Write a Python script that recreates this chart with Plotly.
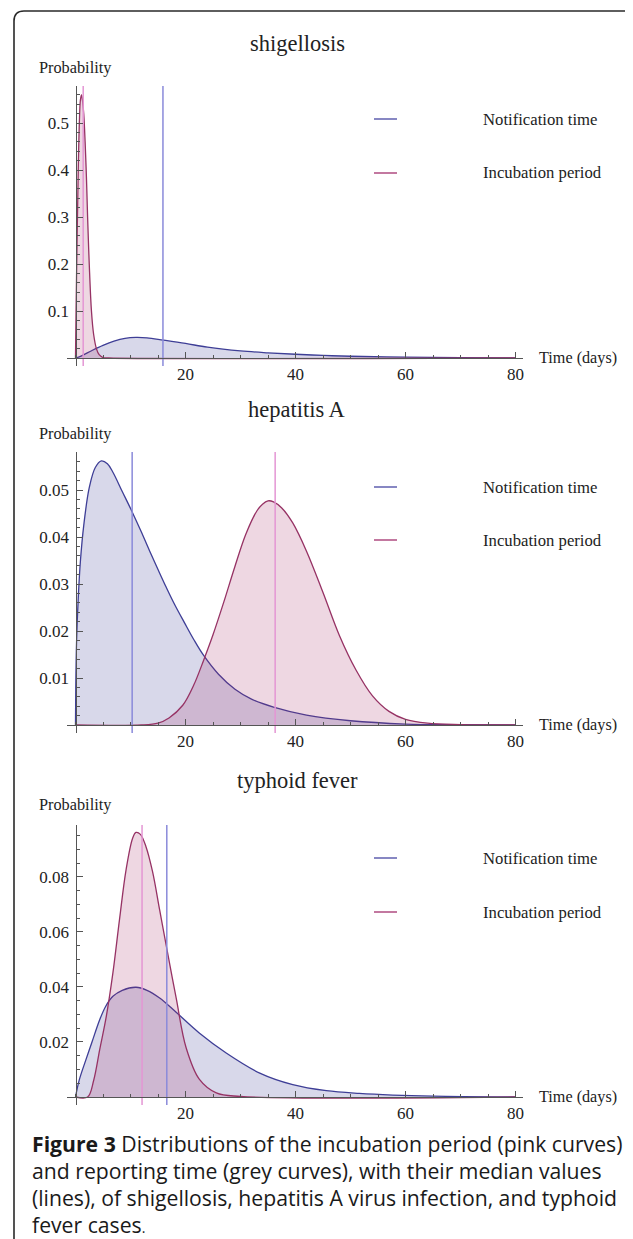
import plotly.graph_objects as go

# page has an 8px body margin, so the figure is drawn 8px in from the top-left
OFF = 8
W, H = 633 - OFF, 1239 - OFF

# ---------------- data ----------------
titles = ["shigellosis", "hepatitis A", "typhoid fever"]
legend_labels = ["Notification time", "Incubation period"]

shig_notif_x = [0, 1, 3, 5, 7, 9, 11, 13, 16, 20, 24, 30, 35, 40, 45, 50, 60, 70, 80]
shig_notif_y = [0, 0.004, 0.016, 0.027, 0.036, 0.042, 0.044, 0.043, 0.038, 0.031, 0.023,
                0.015, 0.011, 0.008, 0.0055, 0.0037, 0.0017, 0.0007, 0.0003]
shig_incub_x = [0, 0.1, 0.3, 0.5, 0.7, 0.9, 1.1, 1.3, 1.5, 1.75, 2.0, 2.2, 2.5, 2.9, 3.3,
                3.8, 4.3, 5.0, 6.0, 80]
shig_incub_y = [0, 0.1, 0.26, 0.4, 0.5, 0.55, 0.56, 0.545, 0.52, 0.46, 0.38, 0.3, 0.2, 0.1,
                0.05, 0.02, 0.007, 0.001, 0, 0]
shig_medians = [15.9, 1.4]

hepa_notif_x = [0, 0.05, 0.2, 0.5, 0.9, 1.5, 2.5, 3.6, 4.7, 5.8, 6.8, 8.5, 10.2, 12, 13.5,
                15, 16.5, 18, 19.8, 21.5, 23.3, 26, 29, 32, 36, 42, 50, 60, 70, 80]
hepa_notif_y = [0, 0.008, 0.018, 0.027, 0.035, 0.0425, 0.0505, 0.0548, 0.0562, 0.0556,
                0.0538, 0.0497, 0.0456, 0.0410, 0.0370, 0.0331, 0.0293, 0.0257, 0.0218,
                0.0182, 0.0148, 0.0108, 0.0076, 0.0055, 0.0038, 0.0021, 0.0009, 0.0002,
                0.00005, 0]
hepa_incub_x = [0, 12, 15, 17, 19.5, 21.5, 23.3, 25, 27, 29, 31, 33, 34, 35, 36, 37.5,
                39.5, 42, 45, 48, 51, 54, 57, 60, 64, 70, 80]
hepa_incub_y = [0, 0, 0.0004, 0.0015, 0.0042, 0.0085, 0.0138, 0.0192, 0.0263, 0.0338,
                0.0407, 0.0456, 0.0470, 0.0477, 0.0475, 0.0462, 0.0430, 0.0370, 0.0282,
                0.0190, 0.0117, 0.0062, 0.0029, 0.0012, 0.0004, 0.0001, 0]
hepa_medians = [10.3, 36.3]

typh_notif_x = [0, 0.7, 1.9, 3, 4.4, 5.5, 6.8, 8.5, 11, 13, 15.3, 18.3, 22.5, 27.4, 33.5,
                39.5, 45.6, 51.6, 57.7, 65, 80]
typh_notif_y = [0, 0.0063, 0.0136, 0.02, 0.0281, 0.033, 0.0366, 0.0388, 0.0399, 0.0388,
                0.036, 0.0308, 0.0233, 0.016, 0.0087, 0.0045, 0.0023, 0.0013, 0.0007,
                0.0003, 0]
typh_incub_x = [0, 2.2, 3.3, 4.4, 5.6, 6.8, 8, 9.2, 10.4, 11, 11.8, 12.8, 14, 15.3, 16.5,
                18.3, 20.1, 22.5, 25.6, 30, 80]
typh_incub_y = [0, 0, 0.006, 0.0172, 0.0293, 0.0451, 0.0645, 0.0827, 0.0942, 0.0962,
                0.0955, 0.0911, 0.082, 0.068, 0.055, 0.036, 0.018, 0.0065, 0.0015, 0.0002, 0]
typh_medians = [16.6, 12.1]

y_tickvals = [[0.1, 0.2, 0.3, 0.4, 0.5],
              [0.01, 0.02, 0.03, 0.04, 0.05],
              [0.02, 0.04, 0.06, 0.08]]
y_ticktext = [["0.1", "0.2", "0.3", "0.4", "0.5"],
              ["0.01", "0.02", "0.03", "0.04", "0.05"],
              ["0.02", "0.04", "0.06", "0.08"]]
y_max = [0.579, 0.0581, 0.0989]
y_minor = [0.02, 0.002, 0.005]
x_tickvals = [20, 40, 60, 80]
x_ticktext = ["20", "40", "60", "80"]
x_minor = 5

caption_lines = [
    "<b>Figure 3</b> Distributions of the incubation period (pink curves)",
    "and reporting time (grey curves), with their median values",
    "(lines), of shigellosis, hepatitis A virus infection, and typhoid",
    "fever cases<span style='font-size:14px'>.</span>",
]

panels = [
    (shig_notif_x, shig_notif_y, shig_incub_x, shig_incub_y, shig_medians),
    (hepa_notif_x, hepa_notif_y, hepa_incub_x, hepa_incub_y, hepa_medians),
    (typh_notif_x, typh_notif_y, typh_incub_x, typh_incub_y, typh_medians),
]

# ---------------- styling / layout ----------------
SERIF = "Liberation Serif"
BLUE_LINE = "rgb(62,62,150)"
BLUE_FILL = "rgba(60,60,150,0.2)"
PINK_LINE = "rgb(150,50,100)"
PINK_FILL = "rgba(165,40,100,0.19)"
BLUE_MED = "rgb(138,138,218)"
PINK_MED = "rgb(228,150,212)"
LEG_BLUE = "rgb(135,135,195)"
LEG_PINK = "rgb(195,120,160)"
AX = "#555555"
TXT = "#222222"


def X(px):
    return (px - OFF) / W


def Y(py):
    return 1 - (py - OFF) / H


baselines = [358, 725, 1097]
tops = [86, 452, 825]
overhang = 8
x0_px, ppd = 75.5, 5.5
plot_left, plot_right = 67, 523
title_y = [43, 410, 780]
prob_y = [67, 434, 804]
leg_y = [(119, 173), (487, 540), (858, 912)]

fig = go.Figure()
layout = dict(
    width=W, height=H, margin=dict(l=0, r=0, t=0, b=0),
    paper_bgcolor="white", plot_bgcolor="rgba(0,0,0,0)",
    showlegend=False, annotations=[], shapes=[],
)

xr = [(plot_left - x0_px) / ppd, (plot_right - x0_px) / ppd]

for i, (nx, ny, ix, iy, meds) in enumerate(panels):
    k = "" if i == 0 else str(i + 1)
    xa, ya = "x" + k, "y" + k
    base, top = baselines[i], tops[i]
    scale = (base - top) / y_max[i]
    yr = [-overhang / scale, y_max[i]]

    fig.add_trace(go.Scatter(x=nx, y=ny, mode="lines", fill="tozeroy",
                             fillcolor=BLUE_FILL,
                             line=dict(color=BLUE_LINE, width=1.3, shape="spline", smoothing=1.0),
                             xaxis=xa, yaxis=ya, name=legend_labels[0]))
    fig.add_trace(go.Scatter(x=ix, y=iy, mode="lines", fill="tozeroy",
                             fillcolor=PINK_FILL,
                             line=dict(color=PINK_LINE, width=1.3, shape="spline", smoothing=1.0),
                             xaxis=xa, yaxis=ya, name=legend_labels[1]))
    # median lines
    for m, col in zip(meds, [BLUE_MED, PINK_MED]):
        fig.add_trace(go.Scatter(x=[m, m], y=yr, mode="lines",
                                 line=dict(color=col, width=1.5),
                                 xaxis=xa, yaxis=ya, hoverinfo="skip"))

    layout["xaxis" + k] = dict(
        domain=[X(plot_left), X(plot_right)], range=xr, anchor="free",
        position=Y(base), showline=True, linecolor=AX, linewidth=1,
        showgrid=False, zeroline=False, ticks="inside", ticklen=6, tickcolor=AX,
        tickmode="array", tickvals=x_tickvals, ticktext=x_ticktext,
        tickfont=dict(family=SERIF, size=17, color=TXT), ticklabelstandoff=1,
        minor=dict(tickmode="linear", tick0=0, dtick=x_minor, ticks="inside",
                   ticklen=3, tickcolor=AX, showgrid=False),
    )
    layout["yaxis" + k] = dict(
        domain=[Y(base + overhang), Y(top)], range=yr, anchor="free",
        position=X(x0_px), showline=True, linecolor=AX, linewidth=1,
        showgrid=False, zeroline=False, ticks="inside", ticklen=6, tickcolor=AX,
        tickmode="array", tickvals=y_tickvals[i], ticktext=y_ticktext[i],
        tickfont=dict(family=SERIF, size=17, color=TXT), ticklabelstandoff=3,
        minor=dict(tickmode="linear", tick0=0, dtick=y_minor[i], ticks="inside",
                   ticklen=3, tickcolor=AX, showgrid=False),
    )

    ann = layout["annotations"]
    ann.append(dict(text=titles[i], x=X(297), y=Y(title_y[i]), xref="paper", yref="paper",
                    xanchor="center", yanchor="middle", showarrow=False,
                    font=dict(family=SERIF, size=22.5, color=TXT)))
    ann.append(dict(text="Probability", x=X(75), y=Y(prob_y[i]), xref="paper", yref="paper",
                    xanchor="center", yanchor="middle", showarrow=False,
                    font=dict(family=SERIF, size=16.3, color=TXT)))
    ann.append(dict(text="Time (days)", x=X(537), y=Y(base), xref="paper", yref="paper",
                    xanchor="left", yanchor="middle", showarrow=False,
                    font=dict(family=SERIF, size=16.2, color=TXT)))
    for j, (lab, lcol) in enumerate(zip(legend_labels, [LEG_BLUE, LEG_PINK])):
        ly = leg_y[i][j]
        ann.append(dict(text=lab, x=X(481), y=Y(ly), xref="paper", yref="paper",
                        xanchor="left", yanchor="middle", showarrow=False,
                        font=dict(family=SERIF, size=16.7, color=TXT)))
        layout["shapes"].append(dict(type="line", xref="paper", yref="paper",
                                     x0=X(374), x1=X(397), y0=Y(ly), y1=Y(ly),
                                     line=dict(color=lcol, width=2)))

# caption
cap_y = [1143, 1170, 1197, 1224]
for line, cy in zip(caption_lines, cap_y):
    layout["annotations"].append(dict(text=line, x=X(30), y=Y(cy), xref="paper", yref="paper",
                                      xanchor="left", yanchor="middle", showarrow=False,
                                      font=dict(family="Open Sans", size=21.2, color="#1a1a1a")))

# rounded frame
r = 10
lx, ty = 14, 11
path = (f"M {X(lx)},{Y(H + 40)} L {X(lx)},{Y(ty + r)} "
        f"Q {X(lx)},{Y(ty)} {X(lx + r)},{Y(ty)} L {X(W + 40)},{Y(ty)}")
layout["shapes"].append(dict(type="path", xref="paper", yref="paper", path=path,
                             line=dict(color="#2a2a2a", width=1.6)))

fig.update_layout(**layout)
fig.write_html("out.html")
